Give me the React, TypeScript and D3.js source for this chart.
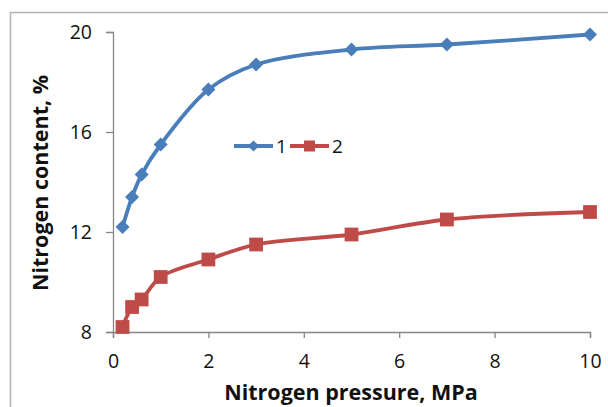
import React, { useEffect, useRef } from 'react'
import * as d3 from 'd3'

const pressure = [0.2, 0.4, 0.6, 1, 2, 3, 5, 7, 10]
const series1 = [12.2, 13.4, 14.3, 15.5, 17.7, 18.7, 19.3, 19.5, 19.9]
const series2 = [8.2, 9.0, 9.3, 10.2, 10.9, 11.5, 11.9, 12.5, 12.8]
const xTicks = [0, 2, 4, 6, 8, 10]
const yTicks = [8, 12, 16, 20]
const seriesNames = ['1', '2']

const W = 608
const H = 407
const font = "'Open Sans', 'Liberation Sans', sans-serif"

export default function App() {
  const ref = useRef<SVGSVGElement>(null)

  useEffect(() => {
    const svg = d3.select(ref.current)
    svg.selectAll('*').remove()

    const margin = { top: 32, left: 113, right: 18, bottom: 75 }
    const x = d3.scaleLinear().domain([0, 10]).range([margin.left, W - margin.right])
    const y = d3.scaleLinear().domain([8, 20]).range([H - margin.bottom, margin.top])

    svg.append('rect').attr('width', W).attr('height', H).attr('fill', '#fff')

    // outer chart frame (right and bottom edges are cut off)
    svg.append('path')
      .attr('d', `M10.5,${H} V12.5 H${W}`)
      .attr('fill', 'none')
      .attr('stroke', '#b3b3b3')
      .attr('stroke-width', 1.5)

    const xAxis = svg.append('g')
      .attr('transform', `translate(0,${y(8)})`)
      .call(d3.axisBottom(x).tickValues(xTicks).tickSize(6).tickPadding(16).tickFormat(d3.format('d')))
    const yAxis = svg.append('g')
      .attr('transform', `translate(${x(0)},0)`)
      .call(d3.axisLeft(y).tickValues(yTicks).tickSize(7).tickPadding(14).tickFormat(d3.format('d')))

    for (const ax of [xAxis, yAxis]) {
      ax.select('.domain').attr('stroke', '#868686').attr('stroke-width', 1.3)
      ax.selectAll('.tick line').attr('stroke', '#868686').attr('stroke-width', 1.3)
      ax.selectAll('.tick text').attr('font-family', font).attr('font-size', 19.5).attr('fill', '#111')
    }

    const colors = ['#4a7ebb', '#be4b48']
    const all = [series1, series2]
    const line = d3.line<[number, number]>()
      .x(d => x(d[0]))
      .y(d => y(d[1]))
      .curve(d3.curveCatmullRom.alpha(0.5))

    const diamond = d3.symbol().type(d3.symbolDiamond2).size(125)()
    const square = d3.symbol().type(d3.symbolSquare).size(190)()
    const shapes = [diamond, square]

    all.forEach((vals, i) => {
      const pts = pressure.map((p, j) => [p, vals[j]] as [number, number])
      svg.append('path')
        .attr('d', line(pts))
        .attr('fill', 'none')
        .attr('stroke', colors[i])
        .attr('stroke-width', 3.8)
      svg.append('g').selectAll('path').data(pts).enter().append('path')
        .attr('d', shapes[i])
        .attr('transform', d => `translate(${x(d[0])},${y(d[1])})`)
        .attr('fill', colors[i])
    })

    // legend
    const legend = svg.append('g').attr('transform', 'translate(234,146)')
    seriesNames.forEach((name, i) => {
      const g = legend.append('g').attr('transform', `translate(${i * 56},0)`)
      g.append('line').attr('x1', 0).attr('x2', 39).attr('stroke', colors[i]).attr('stroke-width', 3.8)
      g.append('path').attr('d', shapes[i]).attr('transform', 'translate(19.5,0) scale(0.8)').attr('fill', colors[i])
      g.append('text').attr('x', 42).attr('y', 7).text(name)
        .attr('font-family', font).attr('font-size', 19).attr('fill', '#111')
    })

    svg.append('text')
      .attr('x', 351).attr('y', 400)
      .attr('text-anchor', 'middle')
      .attr('font-family', font).attr('font-weight', 'bold').attr('font-size', 21.5)
      .attr('fill', '#111')
      .text('Nitrogen pressure, MPa')

    svg.append('text')
      .attr('transform', 'translate(48,183) rotate(-90)')
      .attr('text-anchor', 'middle')
      .attr('font-family', font).attr('font-weight', 'bold').attr('font-size', 21.5)
      .attr('fill', '#111')
      .text('Nitrogen content, %')
  }, [])

  return (
    <svg ref={ref} width={W} height={H} style={{ position: 'absolute', left: 0, top: 0, display: 'block' }} />
  )
}
